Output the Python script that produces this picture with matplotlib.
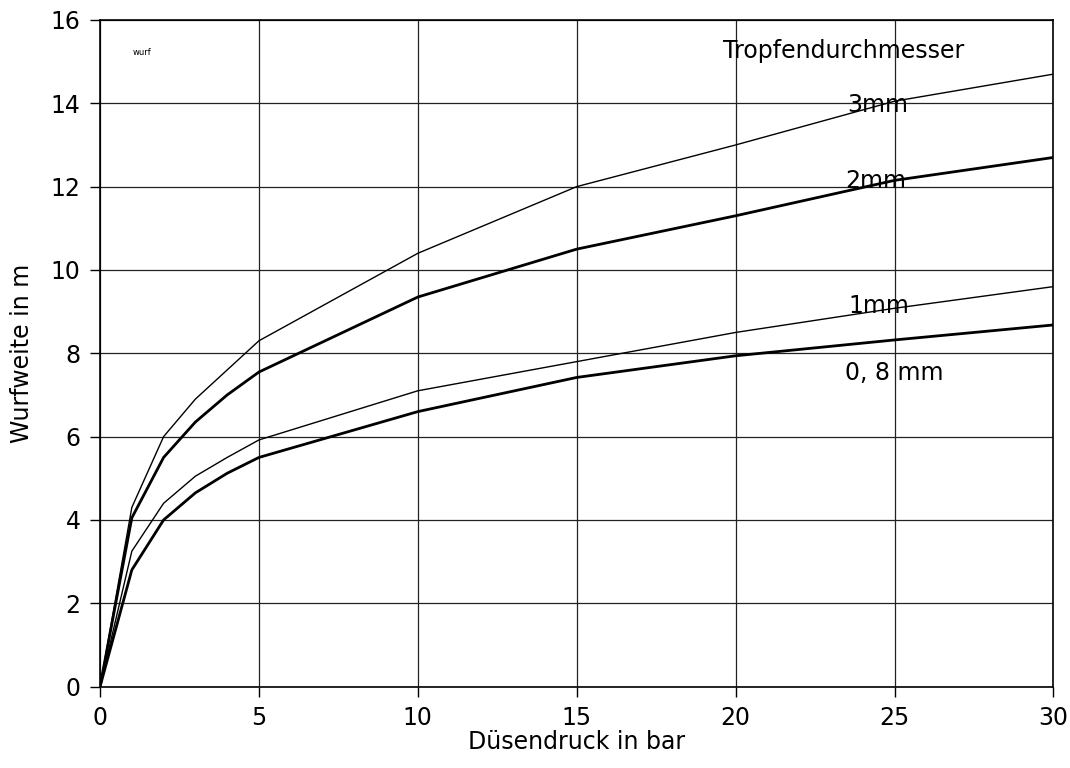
import matplotlib
matplotlib.use('Agg')
import matplotlib.pyplot as plt
import numpy as np

# Düsendruck in bar
druck = [0, 1, 2, 3, 4, 5, 10, 15, 20, 25, 30]
# Wurfweite in m je Tropfendurchmesser
weite_3mm = [0, 4.3, 6.0, 6.9, 7.6, 8.3, 10.4, 12.0, 13.0, 14.05, 14.7]
weite_2mm = [0, 4.05, 5.5, 6.35, 7.0, 7.55, 9.35, 10.5, 11.3, 12.15, 12.7]
weite_1mm = [0, 3.25, 4.4, 5.05, 5.5, 5.92, 7.1, 7.8, 8.5, 9.08, 9.6]
weite_08mm = [0, 2.8, 4.0, 4.65, 5.12, 5.5, 6.6, 7.42, 7.94, 8.32, 8.68]

x_ticks = [0, 5, 10, 15, 20, 25, 30]
y_ticks = [0, 2, 4, 6, 8, 10, 12, 14, 16]

plt.rcParams['font.family'] = ['DejaVu Sans']
FS = 17

fig = plt.figure(figsize=(10.7, 7.68), dpi=100)
ax = fig.add_axes([0.0935, 0.106, 0.891, 0.868])

# duenne Linien: 3mm, 1mm / dicke Linien: 2mm, 0,8mm
ax.plot(druck, weite_3mm, color='black', lw=1.0)
ax.plot(druck, weite_2mm, color='black', lw=2.0)
ax.plot(druck, weite_1mm, color='black', lw=1.0)
ax.plot(druck, weite_08mm, color='black', lw=2.0)

ax.set_xlim(0, 30)
ax.set_ylim(0, 16)
ax.set_xticks(x_ticks)
ax.set_yticks(y_ticks)
ax.tick_params(axis='both', direction='out', length=7, width=1.0,
               labelsize=FS, color='black')
ax.tick_params(axis='x', pad=7)
ax.tick_params(axis='y', pad=7)
ax.grid(True, color='#222222', lw=0.9)
for s in ax.spines.values():
    s.set_linewidth(1.2)
    s.set_color('black')

ax.set_xlabel('Düsendruck in bar', fontsize=FS, labelpad=0)
ax.set_ylabel('Wurfweite in m', fontsize=FS, labelpad=12)

ax.text(19.6, 15.25, 'Tropfendurchmesser', fontsize=FS, va='center', ha='left')
ax.text(23.5, 13.97, '3mm', fontsize=FS, va='center', ha='left')
ax.text(23.45, 12.13, '2mm', fontsize=FS, va='center', ha='left')
ax.text(23.55, 9.14, '1mm', fontsize=FS, va='center', ha='left')
ax.text(23.45, 7.52, '0, 8 mm', fontsize=FS, va='center', ha='left')
ax.text(1.04, 15.22, 'wurf', fontsize=6, va='center', ha='left')

plt.savefig('out.png', dpi=100)
